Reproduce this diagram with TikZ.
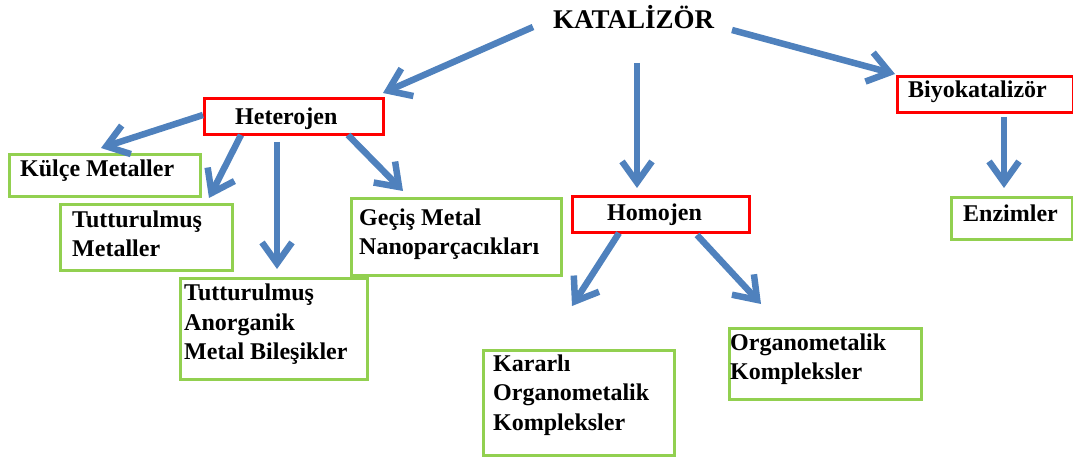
\documentclass[tikz,border=0pt]{standalone}
\usepackage{fontspec}
\setmainfont{Liberation Serif}
\usetikzlibrary{arrows.meta}
\definecolor{arrowblue}{RGB}{79,129,189}
\definecolor{boxgreen}{RGB}{146,208,80}
\definecolor{boxred}{RGB}{255,0,0}
\tikzset{
  rbox/.style={draw=boxred,line width=3pt,inner sep=0pt,anchor=north west},
  gbox/.style={draw=boxgreen,line width=3pt,inner sep=0pt,anchor=north west},
  lbl/.style={inner sep=0pt,anchor=north west,align=left,font=\fontsize{24}{29.5}\selectfont\bfseries},
  arr/.style={draw=arrowblue,line width=6.5pt,-{Straight Barb[length=21pt,width=30pt]}}
}
\begin{document}
\begin{tikzpicture}[x=1pt,y=-1pt]
\useasboundingbox (0,0) rectangle (1073,457);
% boxes
\node[rbox,minimum width=179pt,minimum height=36pt] (het) at (203,97) {};
\node[rbox,minimum width=176pt,minimum height=36pt] (bio) at (896,75) {};
\node[rbox,minimum width=177pt,minimum height=36pt] (hom) at (571,195) {};
\node[gbox,minimum width=191pt,minimum height=42pt] (kulce) at (8,153) {};
\node[gbox,minimum width=172pt,minimum height=66pt] (tutm) at (59,203) {};
\node[gbox,minimum width=187pt,minimum height=101pt] (anorg) at (179,277) {};
\node[gbox,minimum width=210pt,minimum height=77pt] (gecis) at (350,197) {};
\node[gbox,minimum width=121pt,minimum height=42pt] (enz) at (950,196) {};
\node[gbox,minimum width=191pt,minimum height=105pt] (kar) at (482,349) {};
\node[gbox,minimum width=192pt,minimum height=71pt] (organo) at (728,327) {};
% texts
\node[inner sep=0pt,anchor=base west,font=\fontsize{27}{32}\selectfont\bfseries] (kat) at (553,29) {KATALİZÖR};
\node[inner sep=0pt,anchor=base west,font=\fontsize{24}{29.5}\selectfont\bfseries] (thet) at (235,125) {Heterojen};
\node[inner sep=0pt,anchor=base west,font=\fontsize{24}{29.5}\selectfont\bfseries] (tbio) at (908,98) {Biyokatalizör};
\node[inner sep=0pt,anchor=base west,font=\fontsize{24}{29.5}\selectfont\bfseries] (thom) at (607,220) {Homojen};
\node[inner sep=0pt,anchor=base west,font=\fontsize{24}{29.5}\selectfont\bfseries] (tkul) at (20,177) {Külçe Metaller};
\node[inner sep=0pt,anchor=base west,font=\fontsize{24}{29.5}\selectfont\bfseries] (tenz) at (963,222) {Enzimler};
\node[lbl] (ttutm) at (72,210.5) {Tutturulmuş\\Metaller};
\node[lbl] (tanorg) at (184,284) {Tutturulmuş\\Anorganik\\Metal Bileşikler};
\node[lbl] (tgecis) at (359,208.5) {Geçiş Metal\\Nanoparçacıkları};
\node[lbl] (tkar) at (493,354.5) {Kararlı\\Organometalik\\Kompleksler};
\node[lbl] (torg) at (730,333.5) {Organometalik\\Kompleksler};
% arrow ends
\coordinate (a1s) at (533,27);  \coordinate (a1e) at (383,93);
\coordinate (a2s) at (637,63);  \coordinate (a2e) at (637,188);
\coordinate (a3s) at (732,30);  \coordinate (a3e) at (895,74);
\coordinate (a4s) at (203,115); \coordinate (a4e) at (101,148);
\coordinate (a5s) at (241,135); \coordinate (a5e) at (209,198);
\coordinate (a6s) at (277,142); \coordinate (a6e) at (277,269);
\coordinate (a7s) at (348,135); \coordinate (a7e) at (403,191);
\coordinate (a8s) at (619,233); \coordinate (a8e) at (572,306);
\coordinate (a9s) at (697,235); \coordinate (a9e) at (761,304);
\coordinate (a10s) at (1004,117); \coordinate (a10e) at (1004,188);
\draw[arr] (a1s) -- (a1e);
\draw[arr] (a2s) -- (a2e);
\draw[arr] (a3s) -- (a3e);
\draw[arr] (a4s) -- (a4e);
\draw[arr] (a5s) -- (a5e);
\draw[arr] (a6s) -- (a6e);
\draw[arr] (a7s) -- (a7e);
\draw[arr] (a8s) -- (a8e);
\draw[arr] (a9s) -- (a9e);
\draw[arr] (a10s) -- (a10e);
\end{tikzpicture}
\end{document}
